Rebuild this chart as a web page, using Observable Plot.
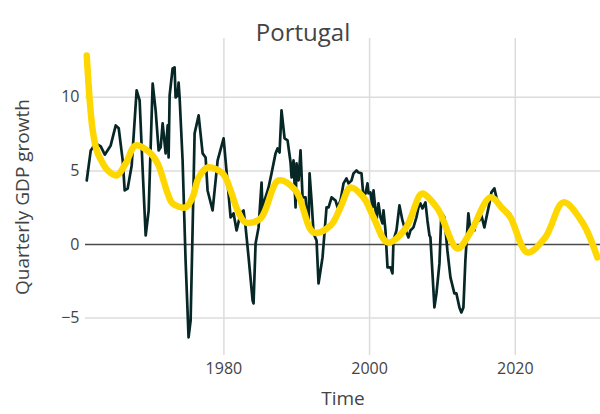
<!DOCTYPE html>
<html><head><meta charset="utf-8">
<script src="https://cdn.jsdelivr.net/npm/d3@7"></script>
<script src="https://cdn.jsdelivr.net/npm/@observablehq/plot@0.6"></script>
<style>body{margin:0;background:#fff;}</style>
</head><body><div id="chart"></div>
<script>
const gdpYears = [1961.17,1961.72,1962.40,1963.09,1963.65,1964.46,1965.15,1965.56,1966.11,1966.38,1966.79,1967.34,1968.02,1968.43,1968.85,1969.26,1969.67,1970.22,1970.63,1971.04,1971.32,1971.59,1972.00,1972.28,1972.41,1972.55,1972.96,1973.23,1973.37,1973.64,1973.78,1973.92,1974.33,1974.74,1975.15,1975.43,1975.70,1975.98,1976.53,1977.08,1977.49,1977.76,1978.45,1979.14,1979.96,1980.51,1980.92,1981.33,1981.74,1982.29,1982.70,1982.98,1983.39,1983.94,1984.07,1984.35,1984.76,1985.17,1985.31,1985.58,1986.13,1986.54,1987.09,1987.37,1987.64,1987.91,1988.33,1988.74,1989.15,1989.29,1989.56,1989.84,1989.97,1990.25,1990.52,1990.80,1991.21,1991.34,1991.62,1991.76,1992.03,1992.31,1992.72,1992.99,1993.54,1994.09,1994.37,1994.78,1995.32,1995.60,1996.01,1996.42,1996.83,1997.11,1997.52,1997.79,1998.20,1998.48,1998.89,1999.16,1999.44,1999.71,1999.85,2000.12,2000.40,2000.54,2000.95,2001.22,2001.50,2001.77,2001.91,2002.18,2002.46,2002.87,2003.14,2003.28,2003.69,2004.10,2004.51,2004.79,2005.34,2005.61,2006.02,2006.43,2006.71,2006.98,2007.26,2007.67,2007.94,2008.22,2008.35,2008.90,2009.18,2009.59,2009.86,2010.27,2010.68,2011.10,2011.64,2011.92,2012.33,2012.60,2012.88,2013.15,2013.56,2013.84,2014.39,2014.66,2015.07,2015.35,2015.76,2016.04,2016.45,2016.72,2017.13,2017.41,2017.82,2018.23,2018.78,2019.33];
const gdpValues = [4.35,6.39,6.87,6.66,6.10,6.73,8.09,7.90,5.70,3.67,3.80,5.37,10.47,9.80,5.03,0.61,2.30,10.94,9.10,6.39,6.60,8.23,6.19,8.09,5.91,10.13,11.96,12.03,9.99,10.13,11.01,9.99,5.71,-1.09,-6.32,-5.17,0.95,7.55,8.77,6.19,5.91,3.67,2.31,5.71,7.21,4.15,1.84,2.11,0.95,2.11,2.31,1.16,-0.88,-3.81,-4.01,0.07,1.16,4.21,2.11,2.99,3.87,4.83,6.19,6.53,6.25,9.11,7.21,7.07,5.57,4.55,5.71,2.52,5.51,4.35,6.39,3.20,3.20,2.31,1.16,4.83,2.99,0.75,0.27,-2.65,-0.88,2.52,2.52,3.20,2.99,2.52,2.99,4.15,4.49,4.15,4.35,4.83,5.03,4.89,4.83,3.20,3.47,4.15,3.47,3.54,2.52,3.67,1.63,2.79,1.84,1.43,2.31,0.95,-1.56,-1.56,-1.97,0.27,0.95,2.65,1.63,1.16,0.48,0.95,1.16,1.84,2.52,2.79,2.45,2.86,1.63,0.61,0.48,-4.28,-3.33,-1.29,2.18,1.84,-0.41,-2.24,-3.33,-3.33,-4.28,-4.62,-4.28,-1.09,2.11,0.95,0.95,1.84,1.63,1.97,1.16,1.84,2.79,3.54,3.81,3.20,2.65,2.45,2.31,2.04];
const trendYears = [1961.17,1961.58,1961.99,1962.54,1962.95,1964.05,1965.28,1966.52,1967.89,1969.81,1970.91,1972.28,1972.96,1974.74,1975.70,1976.53,1977.76,1979.82,1980.92,1981.88,1982.98,1985.03,1987.50,1989.84,1992.31,1994.64,1996.01,1997.38,1999.16,2000.54,2002.46,2004.93,2006.85,2007.26,2009.32,2012.06,2013.84,2016.58,2018.23,2019.33,2021.66,2024.13,2026.60,2029.21,2031.27];
const trendValues = [12.85,9.79,7.75,6.39,5.91,5.03,4.69,5.51,6.73,6.25,5.51,3.47,2.79,2.52,3.20,4.55,5.23,4.83,3.67,2.31,1.50,1.77,4.35,3.67,0.82,1.29,2.52,3.87,3.20,1.84,0.14,1.09,3.33,3.47,2.45,-0.27,0.82,3.20,2.45,1.84,-0.54,0.48,2.86,1.50,-0.88];
const xTicks = [1980, 2000, 2020];
const yTicks = [-5, 0, 5, 10];
const titleText = "Portugal";
const xLabel = "Time";
const yLabel = "Quarterly GDP growth";

const gdp = gdpYears.map((t, i) => ({t, v: gdpValues[i]}));
const trend = trendYears.map((t, i) => ({t, v: trendValues[i]}));

const chart = Plot.plot({
  width: 600, height: 414,
  marginTop: 38, marginBottom: 59, marginLeft: 85, marginRight: 0,
  style: {fontFamily: "'Open Sans', sans-serif", color: "#444", background: "#fff"},
  x: {domain: [1961, 2031.7]},
  y: {domain: [-7.55, 14.0]},
  marks: [
    Plot.gridX(xTicks, {stroke: "#dcdcdc", strokeOpacity: 1, strokeWidth: 1.5}),
    Plot.gridY(yTicks.filter(d => d !== 0), {stroke: "#dcdcdc", strokeOpacity: 1, strokeWidth: 1.5}),
    Plot.ruleY([0], {stroke: "#4a4a4a", strokeWidth: 1.5}),
    Plot.axisX(xTicks, {tickSize: 0, tickPadding: 7, tickFormat: d => String(d), fontSize: 16, label: null}),
    Plot.axisY(yTicks, {tickSize: 0, tickPadding: 6, fontSize: 16, label: null}),
    Plot.line(gdp, {x: "t", y: "v", stroke: "#072626", strokeWidth: 2.7, strokeLinejoin: "round"}),
    Plot.line(trend, {x: "t", y: "v", stroke: "#FFD700", strokeWidth: 6.5, curve: "catmull-rom", strokeLinejoin: "round", strokeLinecap: "round"}),
    Plot.text([titleText], {frameAnchor: "top", textAnchor: "middle", dy: -15, dx: -40, fontSize: 24, fill: "#444"}),
    Plot.text([xLabel], {frameAnchor: "bottom", textAnchor: "middle", dy: 49, fontSize: 19, fill: "#444"}),
    Plot.text([yLabel], {frameAnchor: "left", textAnchor: "middle", dx: -63, rotate: -90, fontSize: 19, fill: "#444"})
  ]
});
document.getElementById("chart").appendChild(chart);
</script>
</body></html>
